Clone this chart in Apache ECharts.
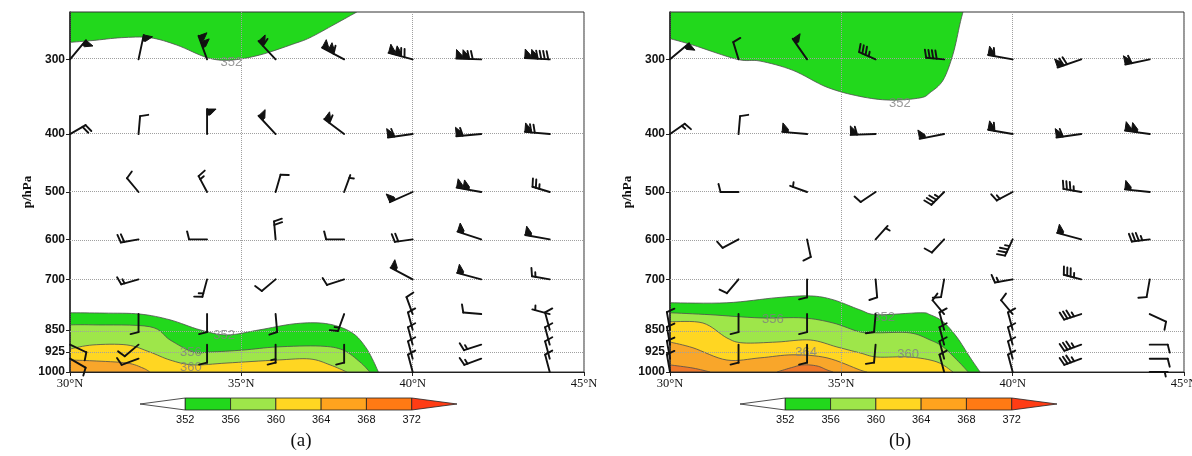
<!DOCTYPE html>
<html lang="en">
<head>
<meta charset="UTF-8">
<title>theta-e cross sections</title>
<script src="https://cdn.jsdelivr.net/npm/echarts@6/dist/echarts.min.js"></script>
<style>html,body{margin:0;background:#fff}</style>
</head>
<body>
<div id="main" style="width:1192px;height:456px;"></div>
<script>
// axes
const latTicks = [30, 35, 40, 45];
const pLevels = [300, 400, 500, 600, 700, 850, 925, 1000];
const gridLevels = [300, 400, 500, 600, 700, 850, 925];
const pTop = 250, pBottom = 1000;
const cbLevels = [348, 352, 356, 360, 364, 368, 372, 376];

// theta-e contour boundaries [lat, hPa], panel (a)
const a352top = [[30,281],[30.67,279],[31.5,276],[32.33,276],[33.12,284],[34.0,298],[34.67,301],[35.54,295],[36.5,283],[37.0,276],[37.73,262],[38.37,250]];
const a352 = [[30,796],[31.0,797],[32.04,800],[32.92,818],[33.79,850],[34.58,867],[35.54,850],[36.51,831],[37.3,828],[37.88,841],[38.32,867],[38.64,911],[38.84,955],[39.0,1000]];
const a356 = [[30,834],[30.67,834],[32.33,840],[32.92,884],[33.59,926],[34.09,926],[35.05,919],[36.04,908],[37.3,905],[37.97,919],[38.46,962],[38.75,1000]];
const a360 = [[30,915],[30.67,901],[31.66,901],[32.33,926],[32.92,955],[33.59,973],[34.58,966],[36.04,955],[37.0,951],[37.59,973],[38.08,1000]];
const a364 = [[30,955],[30.67,958],[31.66,966],[32.13,985],[32.33,1000]];
// panel (b)
const b352top = [[30,277],[30.67,284],[31.96,300],[32.63,302],[33.59,313],[34.58,334],[35.54,346],[36.42,351],[37.3,348],[37.59,341],[37.97,325],[38.26,294],[38.46,262],[38.55,250]];
const b352 = [[30,766],[31.66,766],[33.12,751],[34.09,746],[34.76,757],[35.54,787],[36.04,802],[37.3,796],[37.59,802],[37.97,824],[38.37,874],[38.75,944],[39.05,1000]];
const b356 = [[30,796],[31.17,802],[32.63,812],[33.88,812],[34.76,828],[35.54,857],[36.04,860],[37.0,860],[37.59,884],[37.97,908],[38.46,966],[38.7,1000]];
const b360 = [[30,824],[30.96,828],[31.66,877],[32.13,894],[33.12,891],[34.09,884],[34.87,908],[35.54,929],[36.04,944],[37.0,944],[37.79,962],[38.26,1000]];
const b364 = [[30,891],[30.67,911],[31.66,955],[32.63,947],[33.59,936],[34.58,947],[35.54,992],[35.75,1000]];
const b368w = [[30,973],[30.67,985],[31.17,1000]];
const b368e = [[33.12,1000],[33.5,985],[33.88,973],[34.29,977],[34.58,992],[34.76,1000]];

// contour labels [lat, hPa, text]
const labelsA = [[34.71,303,'352'],[34.5,867,'352'],[33.53,929,'356'],[33.53,981,'360']];
const labelsB = [[36.71,356,'352'],[33.0,818,'356'],[36.25,809,'352'],[33.97,926,'364'],[36.95,936,'360']];

// wind barbs [lat, hPa, direction from (deg), speed (m/s)]
const barbsA = [
  [30,300,40,20],[32,300,12,20],[34,300,340,40],[36,300,317,24],[38,300,298,44],[40,300,285,48],[42,300,272,48],[44,300,273,56],
  [30,400,60,8],[32,400,5,4],[34,400,0,20],[36,400,317,20],[38,400,307,24],[40,400,262,24],[42,400,265,24],[44,400,275,28],
  [32,500,320,4],[34,500,332,6],[36,500,16,4],[38,500,20,2],[40,500,246,20],[42,500,280,40],[44,500,287,10],
  [32,600,260,8],[34,600,270,4],[36,600,355,8],[38,600,270,4],[40,600,262,8],[42,600,288,20],[44,600,280,20],
  [32,700,254,6],[34,700,195,6],[36,700,230,4],[38,700,252,4],[40,700,298,20],[42,700,285,20],[44,700,280,6],
  [32,800,180,4],[34,800,180,4],[36,800,175,4],[38,800,200,6],[40,800,340,4],[42,800,275,4],[44,800,285,2],
  [40,850,345,4],[44,850,345,4],
  [30,900,115,4],[32,900,230,4],[34,900,180,4],[36,900,180,6],[38,900,180,4],[40,900,345,4],[42,900,252,6],[44,900,345,4],
  [30,950,120,4],[32,950,250,4],[40,950,345,4],[42,950,250,6],[44,950,345,4],
  [40,1000,345,4],[44,1000,345,4]
];
const barbsB = [
  [30,300,50,20],[32,300,343,4],[34,300,325,20],[36,300,294,14],[38,300,275,16],[40,300,280,24],[42,300,251,28],[44,300,258,24],
  [30,400,55,6],[32,400,5,4],[34,400,275,20],[36,400,268,24],[38,400,259,20],[40,400,280,24],[42,400,262,24],[44,400,278,40],
  [32,500,270,4],[34,500,290,2],[36,500,236,4],[38,500,225,14],[40,500,242,6],[42,500,280,14],[44,500,276,20],
  [32,600,242,4],[34,600,168,4],[36,600,42,2],[38,600,223,4],[40,600,205,14],[42,600,285,20],[44,600,263,14],
  [32,700,220,4],[34,700,180,4],[36,700,175,4],[38,700,190,4],[40,700,260,6],[42,700,285,14],[44,700,190,4],
  [32,800,180,4],[34,800,180,4],[36,800,185,4],[38,800,320,4],[40,800,320,4],[42,800,252,14],[44,800,115,4],
  [30,850,350,4],[38,850,345,4],[40,850,345,4],
  [30,900,350,4],[32,900,180,4],[34,900,180,4],[36,900,185,4],[38,900,345,4],[40,900,345,4],[42,900,250,14],[44,900,90,4],
  [30,950,350,4],[38,950,345,4],[40,950,345,4],[42,950,250,14],[44,950,90,4],
  [30,1000,350,4],[38,1000,345,4],[40,1000,345,4],[44,1000,90,2]
];

const levColor = {352: '#22d81c', 356: '#9ee64a', 360: '#ffd622', 364: '#f9a62a', 368: '#f0782a'};
const cbColors = ['#ffffff', '#22d81c', '#9ee64a', '#ffd622', '#ffa31e', '#ff7a14', '#ff3c14'];

const regionsA = [
  {pts: a352top, lev: 352, edge: pTop}, {pts: a352, lev: 352, edge: pBottom},
  {pts: a356, lev: 356, edge: pBottom}, {pts: a360, lev: 360, edge: pBottom},
  {pts: a364, lev: 364, edge: pBottom}
];
const regionsB = [
  {pts: b352top, lev: 352, edge: pTop}, {pts: b352, lev: 352, edge: pBottom},
  {pts: b356, lev: 356, edge: pBottom}, {pts: b360, lev: 360, edge: pBottom},
  {pts: b364, lev: 364, edge: pBottom}, {pts: b368w, lev: 368, edge: pBottom},
  {pts: b368e, lev: 368, edge: pBottom}
];

const lnTicks = pLevels.map(Math.log);

// catmull-rom through the pixel points of a contour line
function smooth(pts) {
  const out = [];
  for (let i = 0; i < pts.length - 1; i++) {
    const p0 = pts[Math.max(i - 1, 0)], p1 = pts[i], p2 = pts[i + 1], p3 = pts[Math.min(i + 2, pts.length - 1)];
    for (let k = 0; k < 8; k++) {
      const t = k / 8, t2 = t * t, t3 = t2 * t;
      out.push([0, 1].map(j => 0.5 * (2 * p1[j] + (p2[j] - p0[j]) * t +
        (2 * p0[j] - 5 * p1[j] + 4 * p2[j] - p3[j]) * t2 + (3 * p1[j] - p0[j] - 3 * p2[j] + p3[j]) * t3)));
    }
  }
  out.push(pts[pts.length - 1]);
  return out;
}

function contourRender(regions) {
  return function (params, api) {
    const r = regions[params.dataIndex];
    const px = r.pts.map(q => api.coord([q[0], Math.log(q[1])]));
    const line = smooth(px);
    const a = api.coord([r.pts[r.pts.length - 1][0], Math.log(r.edge)]);
    const b = api.coord([r.pts[0][0], Math.log(r.edge)]);
    return {
      type: 'group',
      children: [
        {type: 'polygon', shape: {points: line.concat([a, b])}, style: {fill: levColor[r.lev]}},
        {type: 'polyline', shape: {points: line}, style: {stroke: '#4e4e4e', lineWidth: 0.8, fill: null}}
      ]
    };
  };
}

function barbRender(params, api) {
  const c = api.coord([api.value(0), api.value(1)]);
  const th = api.value(2) * Math.PI / 180;
  const spd = api.value(3);
  const sx = Math.sin(th), sy = -Math.cos(th);
  const fx = -sy, fy = sx;
  const np = Math.floor(spd / 20);
  const rest = spd - np * 20;
  const nf = Math.floor(rest / 4);
  const nh = rest - nf * 4 >= 2 ? 1 : 0;
  const L = np > 0 ? 25 : 18;
  const at = d => [c[0] + sx * d, c[1] + sy * d];
  const st = {stroke: '#111', lineWidth: 1.9, fill: null, lineCap: 'round'};
  const kids = [{type: 'line', shape: {x1: c[0], y1: c[1], x2: c[0] + sx * L, y2: c[1] + sy * L}, style: st}];
  let d = L;
  for (let i = 0; i < np; i++) {
    const a = at(d), b = at(d - 6);
    kids.push({type: 'polygon', shape: {points: [a, b, [b[0] + fx * 3, b[1] + fy * 3], [a[0] + fx * 9, a[1] + fy * 9]]},
      style: {fill: '#111', stroke: '#111', lineWidth: 1}});
    d -= 6.5;
  }
  for (let i = 0; i < nf; i++) {
    const a = at(d);
    kids.push({type: 'line', shape: {x1: a[0], y1: a[1], x2: a[0] + fx * 8 + sx * 2, y2: a[1] + fy * 8 + sy * 2}, style: st});
    d -= 3.5;
  }
  if (nh) {
    if (np === 0 && nf === 0) d -= 3;
    const a = at(d);
    kids.push({type: 'line', shape: {x1: a[0], y1: a[1], x2: a[0] + fx * 4.5 + sx, y2: a[1] + fy * 4.5 + sy}, style: st});
  }
  return {type: 'group', children: kids};
}

function colorbarRender(params, api) {
  const i = params.dataIndex;
  const a = api.coord([api.value(0), 0]);
  const b = api.coord([api.value(1), 1]);
  const mid = (a[1] + b[1]) / 2;
  let pts;
  if (i === 0) pts = [[a[0], mid], [b[0], b[1]], [b[0], a[1]]];
  else if (i === cbColors.length - 1) pts = [[a[0], b[1]], [b[0], mid], [a[0], a[1]]];
  else pts = [[a[0], b[1]], [b[0], b[1]], [b[0], a[1]], [a[0], a[1]]];
  return {type: 'polygon', shape: {points: pts}, style: {fill: cbColors[i], stroke: '#222', lineWidth: 0.8}};
}

function xAxisFor(g) {
  return {
    gridIndex: g, type: 'value', min: latTicks[0], max: latTicks[latTicks.length - 1],
    interval: latTicks[1] - latTicks[0],
    axisLine: {show: true, lineStyle: {color: '#222', width: 1.2}},
    axisTick: {show: true, length: 4, lineStyle: {color: '#222'}},
    axisLabel: {formatter: v => v + '°N', fontFamily: 'Liberation Serif', fontSize: 12.5, color: '#111', margin: 5},
    splitLine: {show: true, lineStyle: {type: 'dotted', color: '#a0a0a0', width: 1}}
  };
}
function yAxisFor(g) {
  return {
    gridIndex: g, type: 'value', inverse: true, min: Math.log(pTop), max: Math.log(pBottom),
    name: 'p/hPa', nameLocation: 'middle', nameGap: 34, nameRotate: 90,
    nameTextStyle: {fontFamily: 'Liberation Serif', fontWeight: 'bold', fontSize: 13, color: '#111'},
    axisLine: {show: true, lineStyle: {color: '#222', width: 1.5}},
    axisTick: {show: true, customValues: lnTicks, length: 4, lineStyle: {color: '#222'}},
    axisLabel: {customValues: lnTicks, formatter: v => String(Math.round(Math.exp(v))),
      fontFamily: 'Liberation Sans', fontWeight: 'bold', fontSize: 12, color: '#111', margin: 5},
    splitLine: {show: false}
  };
}
function cbXAxis(g) {
  return {
    gridIndex: g, type: 'value', min: cbLevels[0], max: cbLevels[cbLevels.length - 1],
    interval: cbLevels[1] - cbLevels[0],
    axisLine: {show: false}, axisTick: {show: false}, splitLine: {show: false},
    axisLabel: {formatter: v => (v === cbLevels[0] || v === cbLevels[cbLevels.length - 1]) ? '' : String(v),
      fontFamily: 'Liberation Sans', fontSize: 11, color: '#111', margin: 4}
  };
}

const cbData = cbColors.map((c, i) => [cbLevels[i], cbLevels[i + 1]]);

function panelSeries(g, regions, labels, barbs) {
  return [
    {
      type: 'custom', xAxisIndex: g, yAxisIndex: g, z: -1, clip: true, silent: true,
      renderItem: contourRender(regions),
      data: regions.map(r => [r.pts[0][0], Math.log(r.pts[0][1])])
    },
    {
      type: 'scatter', xAxisIndex: g, yAxisIndex: g, z: 3, silent: true,
      symbolSize: 1, itemStyle: {color: 'rgba(0,0,0,0)'},
      label: {show: true, position: 'inside', formatter: '{b}', color: '#808080', fontSize: 13, fontFamily: 'Liberation Sans'},
      data: labels.map(l => ({name: l[2], value: [l[0], Math.log(l[1])]})),
      markLine: {
        silent: true, symbol: ['none', 'none'], label: {show: false},
        lineStyle: {type: 'dotted', color: '#a0a0a0', width: 1},
        data: gridLevels.map(p => ({yAxis: Math.log(p)}))
      }
    },
    {
      type: 'custom', xAxisIndex: g, yAxisIndex: g, z: 5, silent: true,
      renderItem: barbRender,
      data: barbs.map(b => [b[0], Math.log(b[1]), b[2], b[3]])
    }
  ];
}

const myChart = echarts.init(document.getElementById('main'));
myChart.setOption({
  animation: false,
  backgroundColor: '#fff',
  grid: [
    {left: 70, top: 12, width: 514, height: 360, show: true, borderColor: '#333', borderWidth: 1, outerBoundsMode: 'none'},
    {left: 670, top: 12, width: 514, height: 360, show: true, borderColor: '#333', borderWidth: 1, outerBoundsMode: 'none'},
    {left: 140, top: 398, width: 317, height: 12, outerBoundsMode: 'none'},
    {left: 740, top: 398, width: 317, height: 12, outerBoundsMode: 'none'}
  ],
  xAxis: [xAxisFor(0), xAxisFor(1), cbXAxis(2), cbXAxis(3)],
  yAxis: [yAxisFor(0), yAxisFor(1),
    {gridIndex: 2, type: 'value', min: 0, max: 1, show: false},
    {gridIndex: 3, type: 'value', min: 0, max: 1, show: false}],
  graphic: [
    {type: 'text', x: 301, y: 441, style: {text: '(a)', fontSize: 19, fontFamily: 'Liberation Serif', fill: '#111',
      align: 'center', verticalAlign: 'middle', textAlign: 'center', textVerticalAlign: 'middle'}},
    {type: 'text', x: 900, y: 441, style: {text: '(b)', fontSize: 19, fontFamily: 'Liberation Serif', fill: '#111',
      align: 'center', verticalAlign: 'middle', textAlign: 'center', textVerticalAlign: 'middle'}}
  ],
  series: [
    ...panelSeries(0, regionsA, labelsA, barbsA),
    ...panelSeries(1, regionsB, labelsB, barbsB),
    {type: 'custom', xAxisIndex: 2, yAxisIndex: 2, silent: true, renderItem: colorbarRender, data: cbData},
    {type: 'custom', xAxisIndex: 3, yAxisIndex: 3, silent: true, renderItem: colorbarRender, data: cbData}
  ]
});
</script>
</body>
</html>
